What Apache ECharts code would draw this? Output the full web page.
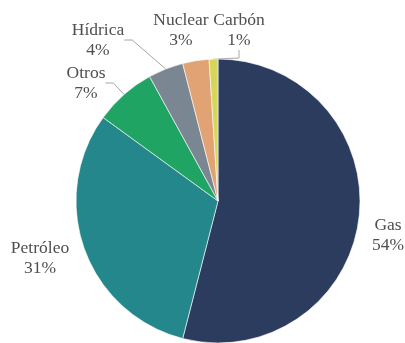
<!DOCTYPE html>
<html><head><meta charset="utf-8">
<script src="https://cdn.jsdelivr.net/npm/echarts@6/dist/echarts.min.js"></script>
<style>html,body{margin:0;padding:0;background:#fff}#c{width:405px;height:343px}</style>
</head><body><div id="c"></div>
<script>
const categories = ['Gas','Petróleo','Otros','Hídrica','Nuclear','Carbón'];
const values = [54,31,7,4,3,1];
const colors = ['#2B3C5F','#23878C','#1FA463','#7A8792','#E1A274','#D5D65A'];
const labelPos = [[388,235],[40,258],[86,83],[98,40],[181,30],[239,30]];
const showLine = [false,false,true,true,false,true];

const chart = echarts.init(document.getElementById('c'));
chart.setOption({
  animation:false,
  series:[{
    type:'pie',
    center:[218,201],
    radius:142,
    startAngle:90,
    clockwise:true,
    itemStyle:{borderColor:'#fff',borderWidth:0.6},
    label:{
      formatter:'{b}\n{c}%',
      fontFamily:'Liberation Serif',
      fontSize:17.5,
      lineHeight:20,
      color:'#4F4F4F',
      align:'center',
      overflow:'none'
    },
    labelLine:{lineStyle:{color:'#A6A6A6',width:1},length:8,length2:8},
    labelLayout:function(p){
      const pos = labelPos[p.dataIndex];
      return {x:pos[0],y:pos[1],align:'center',verticalAlign:'middle'};
    },
    data:categories.map((n,i)=>({name:n,value:values[i],itemStyle:{color:colors[i]},labelLine:{show:showLine[i]}}))
  }]
});
</script></body></html>
